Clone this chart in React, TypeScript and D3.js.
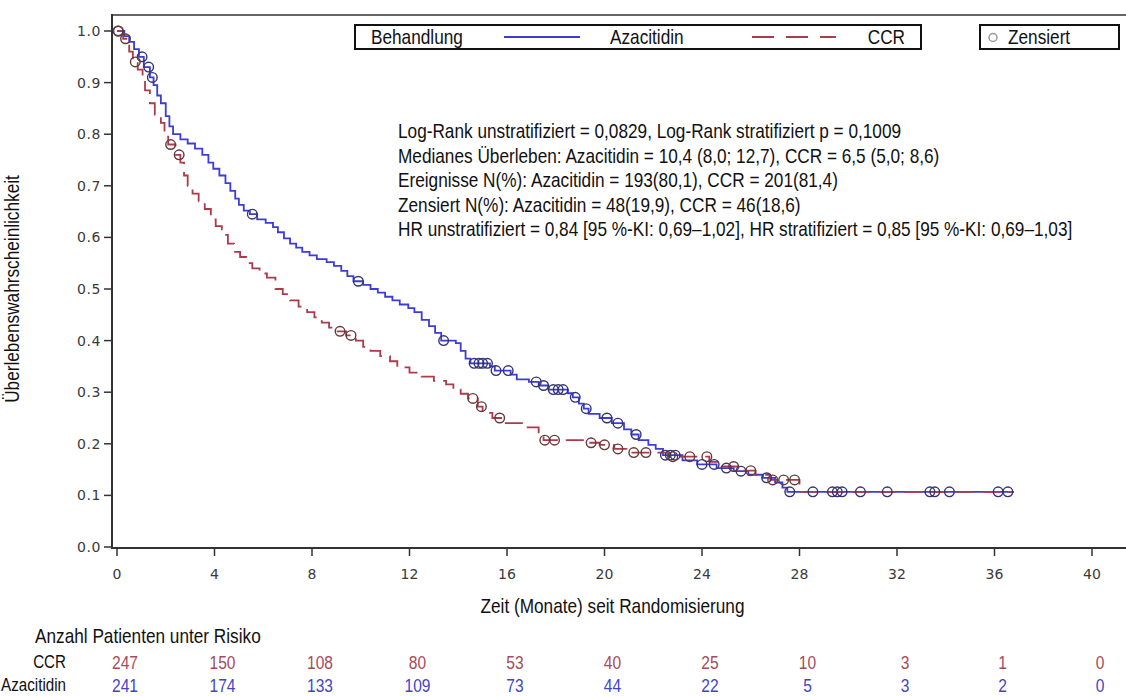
import * as d3 from "d3";

// Kaplan-Meier step points (time in months, survival probability)
const azaTime = [0, 0.3, 0.5, 0.7, 0.9, 1.1, 1.35, 1.5, 1.65, 1.8, 2.0, 2.15, 2.3, 2.6, 2.9, 3.2, 3.5, 3.75, 3.95, 4.2, 4.45, 4.65, 4.85, 5.0, 5.2, 5.45, 5.75, 6.1, 6.4, 6.6, 6.85, 7.1, 7.35, 7.6, 7.9, 8.2, 8.6, 8.9, 9.2, 9.45, 9.7, 10.1, 10.4, 10.7, 11.0, 11.3, 11.6, 11.95, 12.2, 12.5, 12.8, 13.05, 13.3, 13.9, 14.1, 14.3, 14.5, 15.3, 15.5, 16.15, 16.4, 16.9, 17.3, 17.7, 18.5, 18.7, 18.95, 19.15, 19.35, 19.8, 20.3, 20.8, 21.1, 21.4, 21.8, 22.1, 22.4, 23.2, 23.8, 24.6, 25.3, 25.9, 26.5, 27.0, 27.3, 27.5];
const azaSurv = [1.0, 0.99, 0.979, 0.965, 0.95, 0.93, 0.91, 0.895, 0.875, 0.86, 0.835, 0.815, 0.8, 0.79, 0.782, 0.772, 0.76, 0.745, 0.733, 0.72, 0.705, 0.69, 0.675, 0.663, 0.652, 0.645, 0.635, 0.628, 0.62, 0.61, 0.598, 0.588, 0.58, 0.572, 0.565, 0.558, 0.552, 0.545, 0.535, 0.525, 0.515, 0.508, 0.5, 0.493, 0.485, 0.478, 0.47, 0.463, 0.455, 0.44, 0.428, 0.415, 0.4, 0.395, 0.38, 0.365, 0.356, 0.35, 0.342, 0.334, 0.325, 0.32, 0.313, 0.305, 0.298, 0.29, 0.278, 0.268, 0.258, 0.25, 0.24, 0.228, 0.218, 0.207, 0.198, 0.19, 0.178, 0.168, 0.16, 0.153, 0.147, 0.14, 0.134, 0.125, 0.115, 0.107];
const azaCensored = [0.05, 1.03, 1.3, 1.45, 5.55, 9.9, 13.4, 14.65, 14.85, 15.0, 15.2, 15.55, 16.05, 17.2, 17.5, 17.9, 18.1, 18.3, 18.8, 19.25, 20.1, 20.55, 21.3, 22.5, 22.7, 22.9, 24.0, 24.5, 25.0, 25.6, 26.65, 27.6, 28.55, 29.35, 29.55, 29.75, 30.5, 31.6, 33.35, 33.55, 34.15, 36.15, 36.55];

const ccrTime = [0, 0.25, 0.5, 0.65, 0.85, 1.05, 1.15, 1.35, 1.55, 1.8, 1.95, 2.1, 2.4, 2.6, 2.75, 2.9, 3.1, 3.35, 3.6, 3.85, 4.05, 4.3, 4.55, 4.8, 5.05, 5.3, 5.55, 5.85, 6.15, 6.5, 6.8, 7.1, 7.45, 7.8, 8.1, 8.4, 8.7, 9.0, 9.4, 9.8, 10.1, 10.4, 10.8, 11.2, 11.5, 12.0, 12.5, 13.0, 13.5, 13.8, 14.1, 14.4, 14.8, 15.0, 15.4, 15.9, 16.8, 17.3, 17.5, 19.3, 19.8, 20.4, 20.9, 22.6, 24.3, 24.8, 25.5, 26.2, 26.8, 28.0];
const ccrSurv = [1.0, 0.985, 0.96, 0.94, 0.925, 0.905, 0.885, 0.86, 0.838, 0.822, 0.8, 0.78, 0.76, 0.745, 0.72, 0.7, 0.685, 0.67, 0.655, 0.635, 0.622, 0.605, 0.588, 0.572, 0.562, 0.55, 0.54, 0.53, 0.522, 0.5, 0.49, 0.478, 0.466, 0.455, 0.445, 0.435, 0.425, 0.418, 0.41, 0.4, 0.388, 0.38, 0.37, 0.36, 0.348, 0.338, 0.33, 0.322, 0.315, 0.305, 0.297, 0.288, 0.272, 0.26, 0.25, 0.24, 0.232, 0.22, 0.207, 0.202, 0.198, 0.19, 0.183, 0.175, 0.165, 0.156, 0.148, 0.14, 0.13, 0.107];
const ccrCensored = [0.05, 0.35, 0.75, 2.2, 2.55, 9.15, 9.6, 14.6, 14.95, 15.7, 17.55, 17.95, 19.45, 20.0, 20.55, 21.2, 21.7, 22.8, 23.5, 24.2, 25.3, 26.0, 26.9, 27.35, 27.8];

const lastFollowUp = 36.8;

// at-risk table
const riskTimes = [0, 4, 8, 12, 16, 20, 24, 28, 32, 36, 40];
const ccrAtRisk = [247, 150, 108, 80, 53, 40, 25, 10, 3, 1, 0];
const azaAtRisk = [241, 174, 133, 109, 73, 44, 22, 5, 3, 2, 0];

const xTicks = [0, 4, 8, 12, 16, 20, 24, 28, 32, 36, 40];
const yTicks = [0, 0.1, 0.2, 0.3, 0.4, 0.5, 0.6, 0.7, 0.8, 0.9, 1.0];

const statsLines = [
  "Log-Rank unstratifiziert = 0,0829, Log-Rank stratifiziert p = 0,1009",
  "Medianes Überleben: Azacitidin = 10,4 (8,0; 12,7), CCR = 6,5 (5,0; 8,6)",
  "Ereignisse N(%): Azacitidin = 193(80,1), CCR = 201(81,4)",
  "Zensiert N(%): Azacitidin = 48(19,9), CCR = 46(18,6)",
  "HR unstratifiziert = 0,84 [95 %-KI: 0,69–1,02], HR stratifiziert = 0,85 [95 %-KI: 0,69–1,03]",
];

const W = 1126;
const H = 696;
const BLUE = "#3c3cda";
const RED = "#ad3a4a";
const TXT = "'Liberation Sans', Arial, sans-serif";
const NUM = "'DejaVu Sans', 'Liberation Sans', Arial, sans-serif";
const NARROW = 0.82; // Arial Narrow look

const x = d3.scaleLinear().domain([0, 40]).range([117, 1092]);
const y = d3.scaleLinear().domain([0, 1]).range([547, 31]);

function stepPoints(times: number[], surv: number[]): [number, number][] {
  const pts: [number, number][] = times.map((t, i) => [t, surv[i]]);
  pts.push([lastFollowUp, surv[surv.length - 1]]);
  return pts;
}

function survAt(times: number[], surv: number[], t: number) {
  const i = d3.bisectRight(times, t) - 1;
  return surv[Math.max(0, i)];
}

const line = d3
  .line<[number, number]>()
  .x((d) => x(d[0]))
  .y((d) => y(d[1]))
  .curve(d3.curveStepAfter);

function NText({
  x,
  y,
  size = 21,
  anchor = "start",
  fill = "#111",
  rotate = 0,
  children,
}: {
  x: number;
  y: number;
  size?: number;
  anchor?: string;
  fill?: string;
  rotate?: number;
  children: any;
}) {
  return (
    <text
      transform={`translate(${x},${y}) rotate(${rotate}) scale(${NARROW},1)`}
      dy="0.35em"
      textAnchor={anchor}
      fontFamily={TXT}
      fontSize={size}
      fill={fill}
    >
      {children}
    </text>
  );
}

export default function App() {
  const azaPts = stepPoints(azaTime, azaSurv);
  const ccrPts = stepPoints(ccrTime, ccrSurv);
  const axisY = 548;
  const axisX = 112;

  return (
    <svg
      width={W}
      height={H}
      viewBox={`0 0 ${W} ${H}`}
      style={{ position: "absolute", left: 0, top: 0, background: "#fff" }}
    >
      {/* frame */}
      <line x1={axisX} x2={W} y1={15} y2={15} stroke="#666" strokeWidth={2} />
      <line x1={axisX} x2={axisX} y1={14} y2={axisY + 1} stroke="#333" strokeWidth={2} />
      <line x1={axisX} x2={W} y1={axisY} y2={axisY} stroke="#333" strokeWidth={2} />

      {/* y axis */}
      {yTicks.map((v) => (
        <g key={v}>
          <line x1={axisX - 8} x2={axisX} y1={y(v)} y2={y(v)} stroke="#333" strokeWidth={1.5} />
          <text
            x={axisX - 11}
            y={y(v)}
            dy="0.35em"
            textAnchor="end"
            fontFamily={NUM}
            fontSize={14}
            letterSpacing={0.6}
            fill="#3a3a3a"
          >
            {d3.format(".1f")(v)}
          </text>
        </g>
      ))}
      <NText x={12} y={(y(0) + y(1)) / 2} rotate={-90} anchor="middle" size={21}>
        Überlebenswahrscheinlichkeit
      </NText>

      {/* x axis */}
      {xTicks.map((t) => (
        <g key={t}>
          <line x1={x(t)} x2={x(t)} y1={axisY} y2={axisY + 8} stroke="#333" strokeWidth={1.5} />
          <text
            x={x(t)}
            y={574}
            dy="0.35em"
            textAnchor="middle"
            fontFamily={NUM}
            fontSize={14}
            fill="#3a3a3a"
          >
            {t}
          </text>
        </g>
      ))}
      <NText x={(x(0) + x(40)) / 2 + 8} y={606} anchor="middle">
        Zeit (Monate) seit Randomisierung
      </NText>

      {/* curves */}
      <path d={line(azaPts) ?? ""} fill="none" stroke={BLUE} strokeWidth={1.8} />
      <path d={line(ccrPts) ?? ""} fill="none" stroke={RED} strokeWidth={1.8} strokeDasharray="18,8" />

      {/* censored marks */}
      {azaCensored.map((t, i) => (
        <circle
          key={"a" + i}
          cx={x(t)}
          cy={y(survAt(azaTime, azaSurv, t))}
          r={4.8}
          fill="none"
          stroke="#343470"
          strokeWidth={1.4}
        />
      ))}
      {ccrCensored.map((t, i) => (
        <circle
          key={"c" + i}
          cx={x(t)}
          cy={y(survAt(ccrTime, ccrSurv, t))}
          r={4.8}
          fill="none"
          stroke="#663838"
          strokeWidth={1.4}
        />
      ))}

      {/* legend */}
      <rect x={355} y={25} width={566} height={24} fill="#fff" stroke="#111" strokeWidth={2} />
      <NText x={371} y={37}>Behandlung</NText>
      <line x1={504} x2={580} y1={37} y2={37} stroke={BLUE} strokeWidth={2} />
      <NText x={610} y={37}>Azacitidin</NText>
      <line x1={752} x2={836} y1={37} y2={37} stroke={RED} strokeWidth={2} strokeDasharray="22,12" />
      <NText x={905} y={37} anchor="end">CCR</NText>
      <rect x={980} y={25} width={139} height={24} fill="#fff" stroke="#111" strokeWidth={2} />
      <circle cx={993} cy={37.5} r={4} fill="none" stroke="#999" strokeWidth={1.5} />
      <NText x={1008} y={37}>Zensiert</NText>

      {/* statistics */}
      {statsLines.map((s, i) => (
        <NText key={i} x={398} y={131 + i * 24.5}>
          {s}
        </NText>
      ))}

      {/* at-risk table */}
      <NText x={35} y={636}>Anzahl Patienten unter Risiko</NText>
      <NText x={66} y={662} anchor="end" size={18.5}>CCR</NText>
      <NText x={66} y={685} anchor="end" size={18.5}>Azacitidin</NText>
      {riskTimes.map((t, i) => (
        <g key={t}>
          <NText x={x(t) + 8} y={662} anchor="middle" size={19} fill="#a84a5a">
            {ccrAtRisk[i]}
          </NText>
          <NText x={x(t) + 8} y={685} anchor="middle" size={19} fill="#4444c4">
            {azaAtRisk[i]}
          </NText>
        </g>
      ))}
    </svg>
  );
}
